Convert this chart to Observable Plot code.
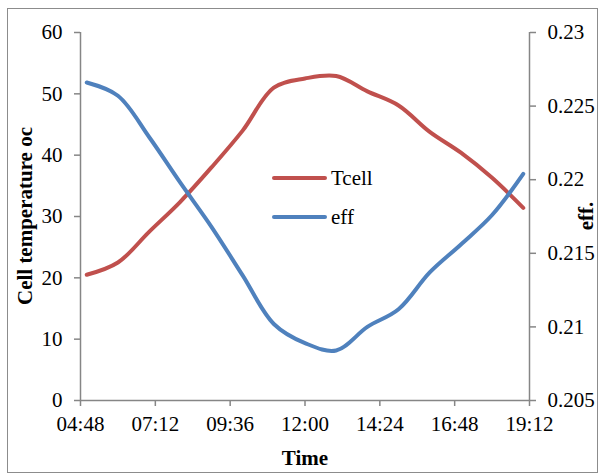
<!DOCTYPE html>
<html>
<head>
<meta charset="utf-8">
<script src="https://cdn.jsdelivr.net/npm/d3@7"></script>
<script src="https://cdn.jsdelivr.net/npm/@observablehq/plot@0.6"></script>
<style>
  body { margin: 0; background: #fff; }
  #chart { position: relative; width: 599px; height: 475px; font-family: "Liberation Serif", serif; color: #000; }
  #chart svg, #chart svg text { font-family: "Liberation Serif", serif !important; }
  #frame { position: absolute; left: 7px; top: 8px; width: 591px; height: 465px; border: 1px solid #8c8c8c; box-sizing: border-box; pointer-events: none; }
  #chart svg { position: absolute; left: 0; top: 0; }
  .title { position: absolute; font-family: "Liberation Serif", serif; font-weight: bold; font-size: 21px; white-space: nowrap; line-height: 1; }
  .rot { transform: translate(-50%, -50%) rotate(-90deg); }
  .legend { position: absolute; left: 272px; font-family: "Liberation Serif", serif; font-size: 21px; line-height: 1; display: flex; align-items: center; }
  .legend .sw { width: 55px; height: 4px; border-radius: 2px; margin-right: 4px; }
</style>
</head>
<body>
<div id="chart">
  <div id="frame"></div>
</div>
<script>
// Hourly measurements of cell temperature and efficiency
const times = ["05:00","06:00","07:00","08:00","09:00","10:00","11:00","12:00","13:00","14:00","15:00","16:00","17:00","18:00","19:00"];
const tcell = [20.5, 22.5, 27.5, 32.4, 38.0, 44.0, 51.0, 52.5, 52.9, 50.4, 48.1, 43.8, 40.4, 36.3, 31.4];
const eff = [0.2266, 0.2257, 0.2229, 0.2198, 0.2168, 0.2135, 0.2102, 0.2089, 0.2084, 0.2100, 0.2112, 0.2137, 0.2156, 0.2176, 0.2204];

// Axis ticks
const timeTickHours = [4.8, 7.2, 9.6, 12, 14.4, 16.8, 19.2];
const timeTickLabels = ["04:48", "07:12", "09:36", "12:00", "14:24", "16:48", "19:12"];
const tempTicks = [0, 10, 20, 30, 40, 50, 60];
const effTicks = [0.205, 0.21, 0.215, 0.22, 0.225, 0.23];
const effTickLabels = ["0.205", "0.21", "0.215", "0.22", "0.225", "0.23"];

const RED = "#C0504D";
const BLUE = "#4F81BD";
const AXIS = "#868686";

const hours = times.map(t => { const [h, m] = t.split(":").map(Number); return h + m / 60; });

// efficiency is drawn on the temperature scale through a linear mapping
const tempDomain = [tempTicks[0], tempTicks[tempTicks.length - 1]];
const effDomain = [effTicks[0], effTicks[effTicks.length - 1]];
const effToTemp = v => tempDomain[0] + (v - effDomain[0]) / (effDomain[1] - effDomain[0]) * (tempDomain[1] - tempDomain[0]);

const tData = hours.map((h, i) => ({h, v: tcell[i]}));
const eData = hours.map((h, i) => ({h, v: effToTemp(eff[i])}));
const xDomain = [timeTickHours[0], timeTickHours[timeTickHours.length - 1]];

const plot = Plot.plot({
  width: 599,
  height: 475,
  marginLeft: 80,
  marginRight: 70,
  marginTop: 32,
  marginBottom: 75,
  style: {fontFamily: "Liberation Serif, serif", fontSize: "21px", background: "transparent", color: "#000"},
  x: {domain: xDomain},
  y: {domain: tempDomain},
  marks: [
    Plot.ruleX(xDomain, {stroke: AXIS, strokeWidth: 1.5}),
    Plot.ruleY([tempDomain[0]], {stroke: AXIS, strokeWidth: 1.5}),
    Plot.axisY(tempTicks, {anchor: "left", tickSize: 6, tickPadding: 12, stroke: AXIS, strokeWidth: 1.5, label: null}),
    Plot.axisY(effTicks.map(effToTemp), {anchor: "right", tickSize: 6, tickPadding: 12, stroke: AXIS, strokeWidth: 1.5, label: null,
      tickFormat: (d, i) => effTickLabels[i]}),
    Plot.axisX(timeTickHours, {anchor: "bottom", tickSize: 6, tickPadding: 10, stroke: AXIS, strokeWidth: 1.5, label: null,
      tickFormat: (d, i) => timeTickLabels[i]}),
    Plot.line(tData, {x: "h", y: "v", stroke: RED, strokeWidth: 4, curve: "catmull-rom", strokeLinecap: "round", strokeLinejoin: "round"}),
    Plot.line(eData, {x: "h", y: "v", stroke: BLUE, strokeWidth: 4, curve: "catmull-rom", strokeLinecap: "round", strokeLinejoin: "round"})
  ]
});

const chart = document.getElementById("chart");
chart.insertBefore(plot, chart.firstChild);

function addTitle(text, x, y, rotate) {
  const d = document.createElement("div");
  d.className = "title" + (rotate ? " rot" : "");
  d.textContent = text;
  d.style.left = x + "px";
  d.style.top = y + "px";
  if (!rotate) d.style.transform = "translate(-50%, -50%)";
  chart.appendChild(d);
}
addTitle("Cell temperature oc", 25, 216, true);
addTitle("eff.", 586, 216, true);
addTitle("Time", 305, 458, false);

function addLegend(label, color, y) {
  const d = document.createElement("div");
  d.className = "legend";
  d.style.top = (y - 11) + "px";
  d.style.height = "22px";
  const sw = document.createElement("div");
  sw.className = "sw";
  sw.style.background = color;
  const t = document.createElement("span");
  t.textContent = label;
  d.appendChild(sw);
  d.appendChild(t);
  chart.appendChild(d);
}
addLegend("Tcell", RED, 178);
addLegend("eff", BLUE, 217);
</script>
</body>
</html>
